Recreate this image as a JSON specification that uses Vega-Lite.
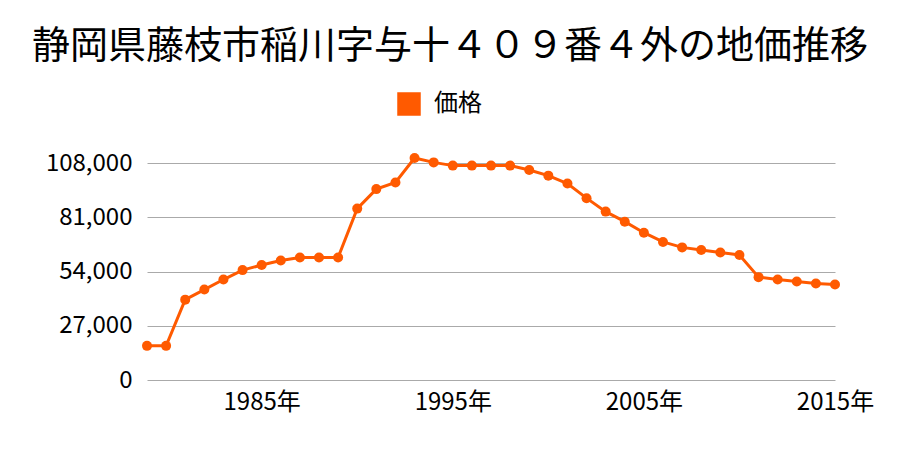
{
  "$schema": "https://vega.github.io/schema/vega-lite/v6.json",
  "autosize": "none",
  "width": 688,
  "height": 217,
  "padding": {"left": 147, "top": 163, "right": 65, "bottom": 70},
  "background": "white",
  "config": {
    "font": "Noto Sans CJK JP",
    "view": {"stroke": null}
  },
  "title": {
    "text": "静岡県藤枝市稲川字与十４０９番４外の地価推移",
    "fontSize": 38,
    "fontWeight": "normal",
    "color": "#000000",
    "anchor": "middle",
    "frame": "group",
    "dx": -41,
    "offset": 26
  },
  "data": {
    "values": [
      {"year": 1979, "price": 17000, "series": "価格"},
      {"year": 1980, "price": 17000, "series": "価格"},
      {"year": 1981, "price": 40000, "series": "価格"},
      {"year": 1982, "price": 45000, "series": "価格"},
      {"year": 1983, "price": 50000, "series": "価格"},
      {"year": 1984, "price": 54700, "series": "価格"},
      {"year": 1985, "price": 57200, "series": "価格"},
      {"year": 1986, "price": 59500, "series": "価格"},
      {"year": 1987, "price": 61000, "series": "価格"},
      {"year": 1988, "price": 61000, "series": "価格"},
      {"year": 1989, "price": 61000, "series": "価格"},
      {"year": 1990, "price": 85300, "series": "価格"},
      {"year": 1991, "price": 95000, "series": "価格"},
      {"year": 1992, "price": 98300, "series": "価格"},
      {"year": 1993, "price": 110500, "series": "価格"},
      {"year": 1994, "price": 108300, "series": "価格"},
      {"year": 1995, "price": 106700, "series": "価格"},
      {"year": 1996, "price": 106700, "series": "価格"},
      {"year": 1997, "price": 106700, "series": "価格"},
      {"year": 1998, "price": 106700, "series": "価格"},
      {"year": 1999, "price": 104500, "series": "価格"},
      {"year": 2000, "price": 101700, "series": "価格"},
      {"year": 2001, "price": 97800, "series": "価格"},
      {"year": 2002, "price": 90500, "series": "価格"},
      {"year": 2003, "price": 83800, "series": "価格"},
      {"year": 2004, "price": 78800, "series": "価格"},
      {"year": 2005, "price": 73300, "series": "価格"},
      {"year": 2006, "price": 68700, "series": "価格"},
      {"year": 2007, "price": 66000, "series": "価格"},
      {"year": 2008, "price": 64700, "series": "価格"},
      {"year": 2009, "price": 63500, "series": "価格"},
      {"year": 2010, "price": 62200, "series": "価格"},
      {"year": 2011, "price": 51200, "series": "価格"},
      {"year": 2012, "price": 50000, "series": "価格"},
      {"year": 2013, "price": 49000, "series": "価格"},
      {"year": 2014, "price": 48000, "series": "価格"},
      {"year": 2015, "price": 47500, "series": "価格"}
    ]
  },
  "encoding": {
    "x": {
      "field": "year",
      "type": "quantitative",
      "scale": {"domain": [1979, 2015], "nice": false, "zero": false},
      "axis": {
        "title": null,
        "values": [1985, 1995, 2005, 2015],
        "labelExpr": "datum.value + '年'",
        "grid": false,
        "domain": false,
        "ticks": false,
        "labelFontSize": 24,
        "labelColor": "#000000",
        "labelPadding": 10,
        "labelFlush": false
      }
    },
    "y": {
      "field": "price",
      "type": "quantitative",
      "scale": {"domain": [0, 108000], "nice": false, "clamp": false},
      "axis": {
        "title": null,
        "values": [0, 27000, 54000, 81000, 108000],
        "format": ",d",
        "grid": true,
        "gridColor": "#aaaaaa",
        "gridWidth": 1,
        "domain": false,
        "ticks": false,
        "labelFontSize": 24,
        "labelColor": "#000000",
        "labelPadding": 15
      }
    },
    "color": {
      "field": "series",
      "type": "nominal",
      "scale": {"range": ["#ff5a00"]},
      "legend": {
        "title": null,
        "orient": "none",
        "legendX": 250,
        "legendY": -71,
        "symbolType": "square",
        "symbolSize": 484,
        "symbolOpacity": 1,
        "symbolFillColor": "#ff5a00",
        "labelFontSize": 24,
        "labelColor": "#000000",
        "labelOffset": 13
      }
    }
  },
  "layer": [
    {"mark": {"type": "line", "strokeWidth": 3, "clip": false}},
    {"mark": {"type": "point", "filled": true, "opacity": 1, "size": 100, "clip": false}}
  ]
}
